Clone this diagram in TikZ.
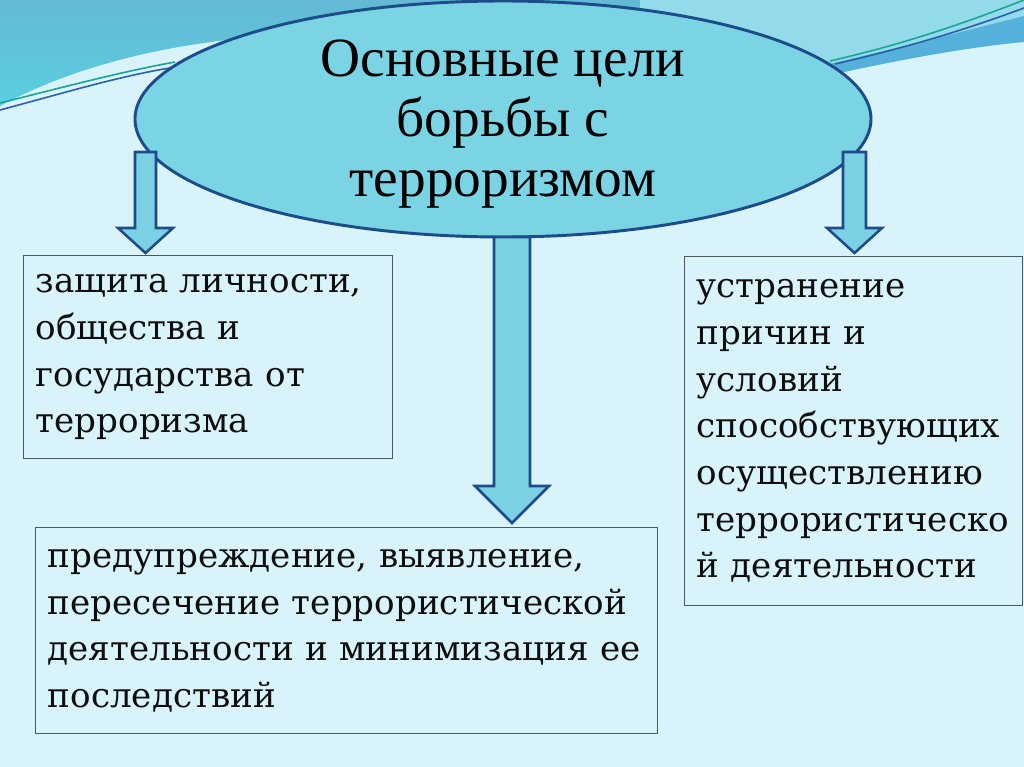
\documentclass[tikz,border=0pt]{standalone}
\usepackage{fontspec}
\setmainfont{DejaVu Serif}
\newfontfamily\ovalfont{Liberation Serif}
\usetikzlibrary{shapes.geometric}

\definecolor{bgcyan}{HTML}{D9F3FA}
\definecolor{topdark}{HTML}{64B9D5}
\definecolor{topcyan}{HTML}{5ACFE0}
\definecolor{topright}{HTML}{93DBEA}
\definecolor{bandblue}{HTML}{55B0DC}
\definecolor{linegreen}{HTML}{1AA594}
\definecolor{lineblue}{HTML}{2A60AC}
\definecolor{ovalfill}{HTML}{7AD4E4}
\definecolor{ovaledge}{HTML}{1D4C8A}
\definecolor{arrfill}{HTML}{7BD0E3}
\definecolor{boxedge}{HTML}{4B5A60}
\definecolor{boxtext}{HTML}{0E0E0E}

\tikzset{
  oval/.style={ellipse, draw=ovaledge, line width=2.2pt, fill=ovalfill,
    minimum width=552pt, minimum height=177pt, inner sep=0pt},
  ovaltext/.style={align=center, font=\ovalfont\fontsize{41.5}{45}\selectfont},
  goalbox/.style={draw=boxedge, line width=1.1pt, anchor=north west,
    align=left, inner xsep=9pt, text=boxtext,
    font=\fontsize{25.6}{35}\selectfont},
  blockarr/.style={draw=ovaledge, line width=1.9pt, fill=arrfill, line join=miter}
}

% down arrow: centre x, top y, head y, tip y, half shaft, half head
\newcommand{\blockarrow}[6]{%
  \draw[blockarr] ({#1-#5},#2) -- ({#1+#5},#2) -- ({#1+#5},#3) -- ({#1+#6},#3)
    -- (#1,#4) -- ({#1-#6},#3) -- ({#1-#5},#3) -- cycle;}

\begin{document}
\begin{tikzpicture}[x=0.75pt, y=-0.75pt]
\useasboundingbox (0,0) rectangle (1024,767);
\fill[bgcyan] (0,0) rectangle (1024,767);

%% top waves
\shade[top color=topdark, bottom color=topcyan] (0,0) -- (0,106)
  .. controls (90,58) and (200,36) .. (330,33) -- (700,40)
  -- (830,72) .. controls (900,58) and (970,46) .. (1024,40) -- (1024,0) -- cycle;
\fill[topright] (640,0) -- (1024,0) -- (1024,18) .. controls (950,35) and (880,52) .. (830,64) -- (640,64) -- cycle;
\fill[bandblue] (830,64) .. controls (880,52) and (950,35) .. (1024,16) -- (1024,42)
  .. controls (960,48) and (890,62) .. (835,74) -- cycle;
\draw[linegreen, line width=1.2pt] (0,103) .. controls (60,88) and (120,72) .. (175,62);
\draw[lineblue, line width=1.2pt] (0,110) .. controls (60,94) and (120,76) .. (170,68);
\draw[linegreen, line width=1.2pt] (830,61) .. controls (900,45) and (960,25) .. (1024,0);
\draw[lineblue, line width=1.2pt] (835,64) .. controls (905,48) and (965,30) .. (1024,8);

%% goal
\node[oval, label={[ovaltext, yshift=-4pt]center:{Основные цели\\борьбы с\\терроризмом}}]
  (goal) at (503,119) {};

%% arrows
\blockarrow{512}{237}{486}{523}{18}{37}
\blockarrow{145.5}{152}{228}{253}{10.5}{27.5}
\blockarrow{854.5}{152}{228}{253}{11.5}{27.5}

%% boxes
\node[goalbox, minimum width=276.75pt, minimum height=152.25pt, text width=258.75pt]
  (protect) at (23,255) {защита личности,\\общества и\\государства от\\терроризма};
\node[goalbox, minimum width=466.5pt, minimum height=154.5pt, text width=448.5pt]
  (prevent) at (35,527) {предупреждение, выявление,\\пересечение террористической\\деятельности и минимизация ее\\последствий};
\node[goalbox, minimum width=253.5pt, minimum height=261.75pt, text width=235.5pt]
  (remove) at (684,256) {устранение\\причин и\\условий\\способствующих\\осуществлению\\террористическо\\й деятельности};
\end{tikzpicture}
\end{document}
